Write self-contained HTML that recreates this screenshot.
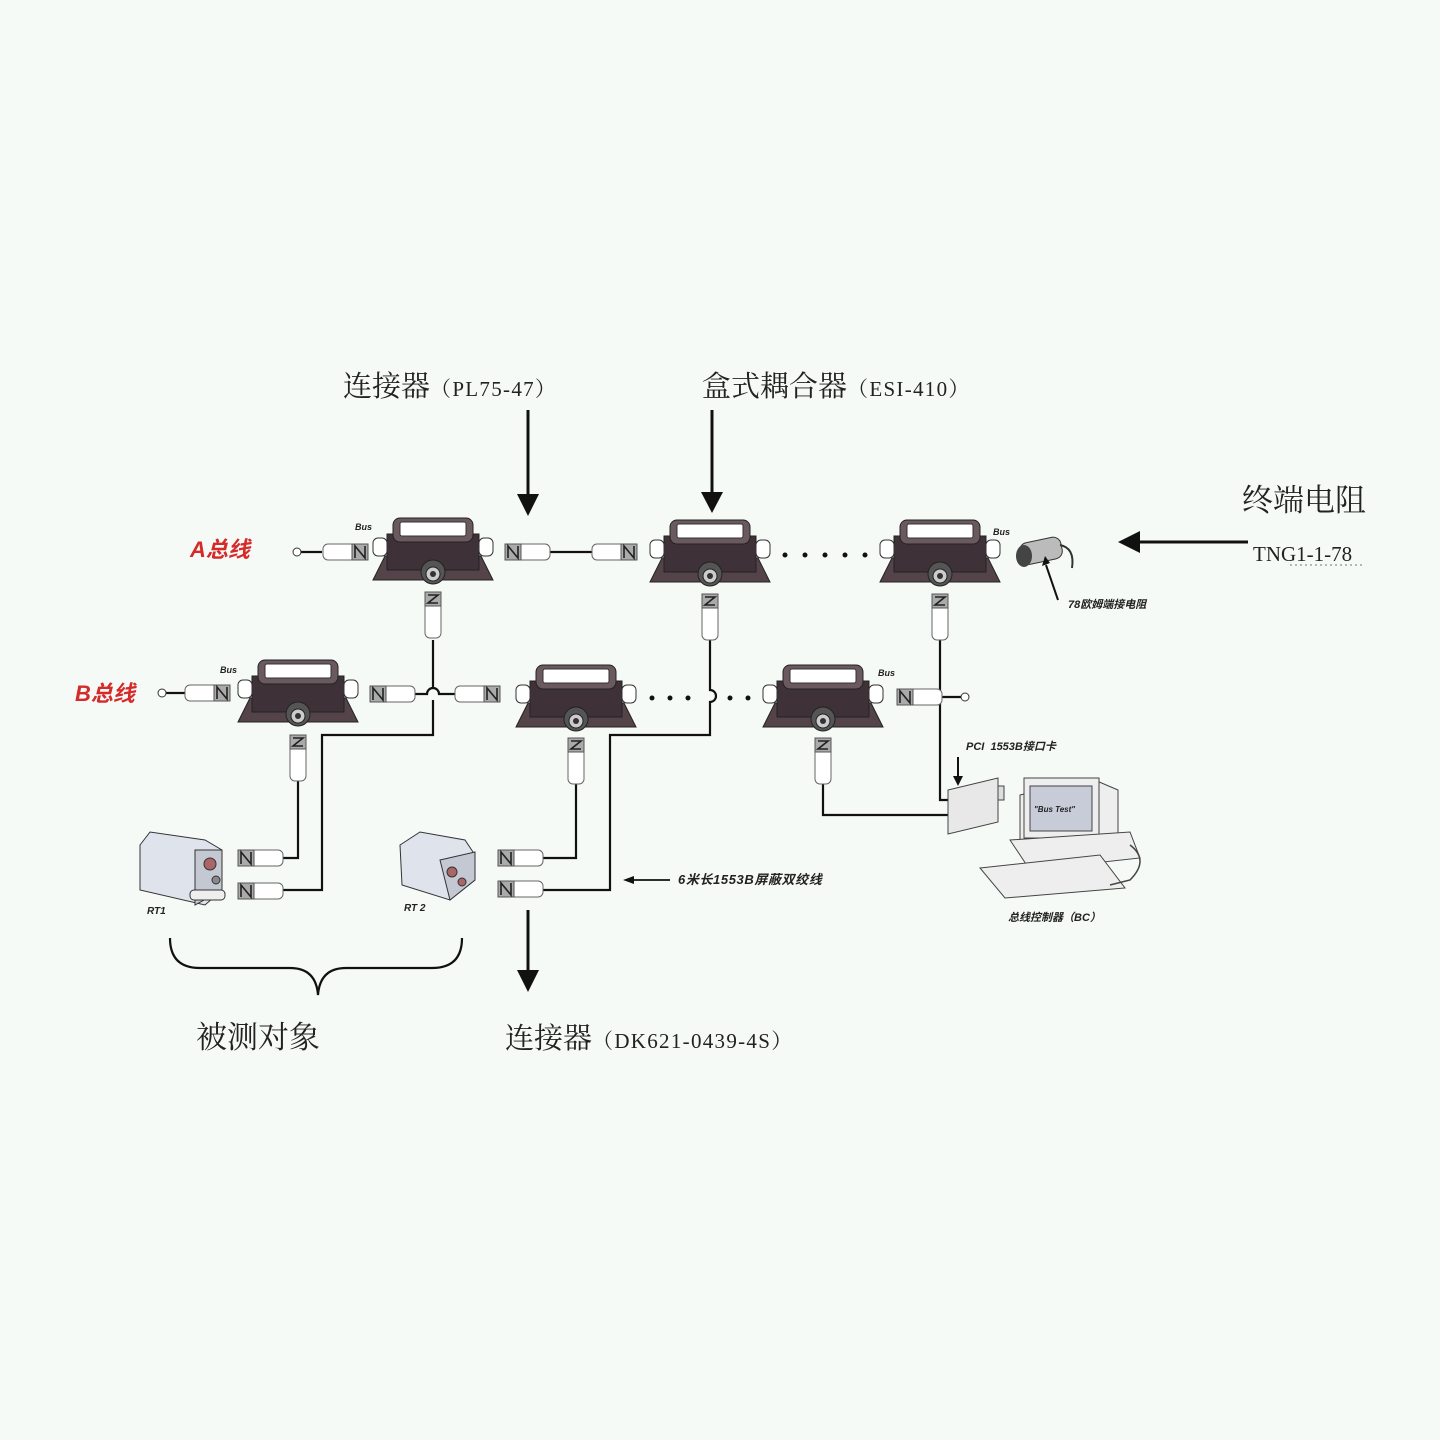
<!DOCTYPE html>
<html><head><meta charset="utf-8"><style>
html,body{margin:0;padding:0;background:#f6faf6;}
svg{display:block}
.cn{font-family:"Liberation Serif","Noto Serif CJK SC","Noto Sans CJK SC",serif;fill:#222}
.sm{font-family:"Liberation Sans","Noto Sans CJK SC",sans-serif;font-weight:bold;font-style:italic;fill:#222}
.red{font-family:"Liberation Sans","Noto Sans CJK SC",sans-serif;font-weight:bold;font-style:italic;fill:#d42a2a}
.lat{font-size:21px;letter-spacing:1.3px}
</style></head><body>
<svg width="1440" height="1440" viewBox="0 0 1440 1440" xmlns="http://www.w3.org/2000/svg">
<defs>
<g id="cpl">
  <polygon points="-60,62 -48,38 48,38 60,62" fill="#54444a" stroke="#222"/>
  <rect x="-46" y="16" width="92" height="36" fill="#3e3238" stroke="#222"/>
  <rect x="-40" y="0" width="80" height="24" rx="7" fill="#6a5a60" stroke="#222"/>
  <rect x="-33" y="4" width="66" height="14" rx="2" fill="#fff" stroke="#333"/>
  <rect x="-60" y="20" width="14" height="18" rx="5" fill="#fff" stroke="#333"/>
  <rect x="46" y="20" width="14" height="18" rx="5" fill="#fff" stroke="#333"/>
  <circle cx="0" cy="54" r="12" fill="#555" stroke="#222"/>
  <circle cx="0" cy="56" r="7" fill="#ccc" stroke="#222"/>
  <circle cx="0" cy="56" r="3" fill="#333"/>
</g>
<g id="vc">
  <rect x="-8" y="0" width="16" height="46" rx="5" fill="#fff" stroke="#666"/>
  <rect x="-8" y="0" width="16" height="14" fill="#aaa" stroke="#555"/>
  <path d="M-5,3 L5,3 L-5,11 L5,11" fill="none" stroke="#222" stroke-width="1.6"/>
</g>
<g id="hcL">
  <rect x="0" y="-8" width="45" height="16" rx="5" fill="#fff" stroke="#666"/>
  <rect x="0" y="-8" width="16" height="16" fill="#aaa" stroke="#555"/>
  <path d="M3,6 L3,-6 L13,6 L13,-6" fill="none" stroke="#222" stroke-width="1.6"/>
</g>
<g id="hcR">
  <rect x="-45" y="-8" width="45" height="16" rx="5" fill="#fff" stroke="#666"/>
  <rect x="-16" y="-8" width="16" height="16" fill="#aaa" stroke="#555"/>
  <path d="M-13,6 L-13,-6 L-3,6 L-3,-6" fill="none" stroke="#222" stroke-width="1.6"/>
</g>
</defs>

<text x="343" y="396" class="cn" font-size="29">连接器<tspan class="lat">（PL75-47）</tspan></text>
<text x="702" y="396" class="cn" font-size="29">盒式耦合器<tspan class="lat">（ESI-410）</tspan></text>
<text x="1242" y="511" class="cn" font-size="31" fill="#333">终端电阻</text>
<text x="1253" y="561" class="cn" font-size="21">TNG1-1-78</text>
<line x1="1290" y1="565" x2="1362" y2="565" stroke="#777" stroke-dasharray="2,3"/>

<g stroke="#111" stroke-width="3" fill="#111">
<line x1="528" y1="410" x2="528" y2="496"/><polygon points="517,494 539,494 528,516" stroke="none"/>
<line x1="712" y1="410" x2="712" y2="494"/><polygon points="701,492 723,492 712,513" stroke="none"/>
<line x1="1248" y1="542" x2="1138" y2="542"/><polygon points="1140,531 1140,553 1118,542" stroke="none"/>
<line x1="528" y1="910" x2="528" y2="972"/><polygon points="517,970 539,970 528,992" stroke="none"/>
</g>

<text x="190" y="557" class="red" font-size="22">A总线</text>
<text x="75" y="701" class="red" font-size="22">B总线</text>
<text x="355" y="530" class="sm" font-size="9">Bus</text>
<text x="220" y="673" class="sm" font-size="9">Bus</text>
<text x="993" y="535" class="sm" font-size="9">Bus</text>
<text x="878" y="676" class="sm" font-size="9">Bus</text>

<g stroke="#111" stroke-width="2.2" fill="none">
<line x1="550" y1="552" x2="592" y2="552"/>
<line x1="300" y1="552" x2="322" y2="552"/>
<line x1="165" y1="693" x2="187" y2="693"/>
<line x1="942" y1="697" x2="962" y2="697"/>
<path d="M415,694 H427 A6,6 0 0 1 439,694 H455"/>
<path d="M433,640 V688 M433,700 V735 H322 V890 H280"/>
<path d="M298,760 V858 H280"/>
<path d="M710,640 V690 A6,6 0 0 1 710,702 V735 H610 V890 H540"/>
<path d="M576,780 V858 H540"/>
<path d="M940,640 V800 H952"/>
<path d="M823,780 V815 H950"/>
</g>
<circle cx="297" cy="552" r="4" fill="#fff" stroke="#333"/>
<circle cx="162" cy="693" r="4" fill="#fff" stroke="#333"/>
<circle cx="965" cy="697" r="4" fill="#fff" stroke="#333"/>

<g fill="#111">
<circle cx="785" cy="555" r="2.5"/><circle cx="805" cy="555" r="2.5"/><circle cx="825" cy="555" r="2.5"/><circle cx="845" cy="555" r="2.5"/><circle cx="865" cy="555" r="2.5"/>
<circle cx="652" cy="698" r="2.5"/><circle cx="670" cy="698" r="2.5"/><circle cx="688" cy="698" r="2.5"/><circle cx="730" cy="698" r="2.5"/><circle cx="748" cy="698" r="2.5"/>
</g>

<use href="#cpl" x="433" y="518"/>
<use href="#cpl" x="710" y="520"/>
<use href="#cpl" x="940" y="520"/>
<use href="#cpl" x="298" y="660"/>
<use href="#cpl" x="576" y="665"/>
<use href="#cpl" x="823" y="665"/>

<use href="#vc" x="433" y="592"/>
<use href="#vc" x="710" y="594"/>
<use href="#vc" x="940" y="594"/>
<use href="#vc" x="298" y="735"/>
<use href="#vc" x="576" y="738"/>
<use href="#vc" x="823" y="738"/>

<use href="#hcR" x="368" y="552"/>
<use href="#hcL" x="505" y="552"/>
<use href="#hcR" x="637" y="552"/>
<use href="#hcR" x="230" y="693"/>
<use href="#hcL" x="370" y="694"/>
<use href="#hcR" x="500" y="694"/>
<use href="#hcL" x="897" y="697"/>
<use href="#hcL" x="238" y="858"/>
<use href="#hcL" x="238" y="891"/>
<use href="#hcL" x="498" y="858"/>
<use href="#hcL" x="498" y="889"/>

<g>
<rect x="1020" y="540" width="42" height="22" rx="8" fill="#bbb" stroke="#333" transform="rotate(-12 1040 551)"/>
<ellipse cx="1024" cy="556" rx="8" ry="11" fill="#444"/>
<path d="M1060,545 Q1075,548 1072,568" stroke="#333" stroke-width="2" fill="none"/>
<line x1="1058" y1="600" x2="1046" y2="565" stroke="#111" stroke-width="2"/>
<polygon points="1042,566 1050,563 1045,556" fill="#111"/>
<text x="1068" y="608" class="sm" font-size="11">78欧姆端接电阻</text>
</g>

<text x="966" y="750" class="sm" font-size="11">PCI&#160;&#160;1553B接口卡</text>
<line x1="958" y1="757" x2="958" y2="778" stroke="#111" stroke-width="2"/>
<polygon points="953,776 963,776 958,786" fill="#111"/>
<polygon points="948,790 998,778 998,822 948,834" fill="#e8e8e8" stroke="#444"/>
<rect x="998" y="786" width="6" height="14" fill="#ddd" stroke="#444"/>
<g stroke="#444" fill="#eee">
<polygon points="1020,795 1090,778 1118,790 1118,840 1050,852 1020,840"/>
<rect x="1024" y="778" width="75" height="60" fill="#eee"/>
<rect x="1030" y="786" width="62" height="45" fill="#c8ccd8"/>
<polygon points="1010,840 1130,832 1140,858 1030,870"/>
<polygon points="980,868 1100,855 1125,888 1005,898"/>
</g>
<text x="1034" y="812" class="sm" font-size="8">"Bus Test"</text>
<path d="M1130,845 Q1150,860 1130,880 L1110,885" stroke="#444" fill="none" stroke-width="1.5"/>
<text x="1008" y="921" class="sm" font-size="11">总线控制器（BC）</text>

<g stroke="#333">
<polygon points="140,845 150,832 205,840 222,850 222,890 205,905 140,890" fill="#dfe3ec"/>
<polygon points="195,850 222,850 222,890 195,905" fill="#c4c8d2"/>
<circle cx="210" cy="864" r="6" fill="#a66"/>
<circle cx="216" cy="880" r="4" fill="#888"/>
<rect x="190" y="890" width="35" height="10" rx="4" fill="#eee"/>
</g>
<text x="147" y="914" class="sm" font-size="10">RT1</text>

<g stroke="#333">
<polygon points="400,845 420,832 465,840 475,855 475,880 450,900 402,885" fill="#dfe3ec"/>
<polygon points="440,860 475,852 475,880 450,900" fill="#c4c8d2"/>
<circle cx="452" cy="872" r="5" fill="#a66"/>
<circle cx="462" cy="882" r="4" fill="#a66"/>
</g>
<text x="404" y="911" class="sm" font-size="10">RT 2</text>

<line x1="670" y1="880" x2="632" y2="880" stroke="#111" stroke-width="1.8"/>
<polygon points="634,876 634,884 623,880" fill="#111"/>
<text x="678" y="884" class="sm" font-size="13" letter-spacing="0.6">6米长1553B屏蔽双绞线</text>

<path d="M170,938 Q170,968 200,968 H290 Q316,968 318,995 Q320,968 346,968 H432 Q462,968 462,938" fill="none" stroke="#111" stroke-width="2.2"/>

<text x="196" y="1048" class="cn" font-size="31">被测对象</text>
<text x="505" y="1048" class="cn" font-size="29">连接器<tspan class="lat">（DK621-0439-4S）</tspan></text>
</svg>
</body></html>
